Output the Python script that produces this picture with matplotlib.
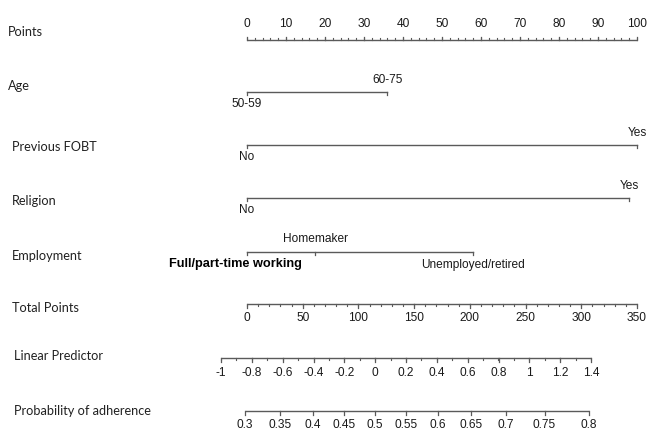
import numpy as np
import matplotlib
matplotlib.use("Agg")
import matplotlib.pyplot as plt
from matplotlib import font_manager

# ---------------- data ----------------
points_ticks = list(range(0, 101, 10))
age_levels = ["50-59", "60-75"]
age_points = [0, 36]
fobt_levels = ["No", "Yes"]
fobt_points = [0, 100]
religion_levels = ["No", "Yes"]
religion_points = [0, 98]
employment_levels = ["Full/part-time working", "Homemaker", "Unemployed/retired"]
employment_points = [0, 17.5, 58]
total_ticks = list(range(0, 351, 50))
lp_ticks = [-1, -0.8, -0.6, -0.4, -0.2, 0, 0.2, 0.4, 0.6, 0.8, 1, 1.2, 1.4]
prob_ticks = [0.3, 0.35, 0.4, 0.45, 0.5, 0.55, 0.6, 0.65, 0.7, 0.75, 0.8]
row_names = ["Points", "Age", "Previous FOBT", "Religion", "Employment",
             "Total Points", "Linear Predictor", "Probability of adherence"]

# ---------------- fonts ----------------
avail = {f.name for f in font_manager.fontManager.ttflist}
narrow = "Liberation Sans Narrow" if "Liberation Sans Narrow" in avail else "Liberation Sans"
lab_font = "Lato" if "Lato" in avail else "DejaVu Sans"

# ---------------- scale mappings (to 'points' units) ----------------
PX0, PX100 = 247.0, 637.0          # pixel position of 0 and 100 points
ppp = (PX100 - PX0) / 100.0
def tp2pt(v):
    return np.asarray(v, float) * 100.0 / 350.0
LP_L, LP_R = (221.0 - PX0) / ppp, (591.0 - PX0) / ppp
def lp2pt(v):
    return LP_L + (np.asarray(v, float) + 1.0) * (LP_R - LP_L) / 2.4
def pr2pt(p):
    p = np.asarray(p, float)
    return lp2pt(np.log(p / (1 - p)))

W, H = 649, 432
fig = plt.figure(figsize=(W / 100, H / 100), dpi=100)
ax = fig.add_axes([0, 0, 1, 1])
ax.set_xlim(-PX0 / ppp, (W - PX0) / ppp)
ax.set_ylim(H, 0)
ax.axis("off")

lc = "#5a5a5a"
tc = "#1a1a1a"
tick_fs = 8.6
lab_fs = 9.2
maj = 3.5   # tick length in px (y units)
mnr = 2.2

def scale(xs_major, labels, y, ylab, xs_minor=(), up=True):
    xs_major = np.asarray(xs_major, float)
    ax.plot([xs_major.min(), xs_major.max()], [y, y], color=lc, lw=1.0, solid_capstyle="butt")
    d = -1 if up else 1
    for x in xs_major:
        ax.plot([x, x], [y, y + d * maj], color=lc, lw=0.9)
    for x in xs_minor:
        ax.plot([x, x], [y, y + d * mnr], color=lc, lw=0.8)
    for x, l in zip(xs_major, labels):
        ax.text(x, ylab, l, ha="center", va="center", fontsize=tick_fs,
                family=narrow, color=tc)

def fmt(v):
    s = ("%g" % v)
    return s.replace("0.", ".") if False else s

# Points
scale(points_ticks, [str(t) for t in points_ticks], 40, 24,
      xs_minor=np.arange(0, 100.1, 2), up=True)

# categorical rows
def cat_row(pts, levels, y, pos, fam=None, weight="normal"):
    pts = np.asarray(pts, float)
    ax.plot([pts.min(), pts.max()], [y, y], color=lc, lw=1.0)
    for x in pts:
        ax.plot([x, x], [y, y + 3], color=lc, lw=0.9)
    for x, l, p in zip(pts, levels, pos):
        yy = y - 12 if p == "above" else y + 12
        ax.text(x, yy, l, ha="center", va="center", fontsize=tick_fs,
                family=narrow, color=tc)

cat_row(age_points, age_levels, 92, ["below", "above"])
cat_row(fobt_points, fobt_levels, 145, ["below", "above"])
cat_row(religion_points, religion_levels, 198, ["below", "above"])

# Employment (first label bold)
ep = np.asarray(employment_points, float)
ax.plot([ep.min(), ep.max()], [252, 252], color=lc, lw=1.0)
for x in ep:
    ax.plot([x, x], [252, 255], color=lc, lw=0.9)
ax.text(ep[0] - 12 / ppp, 264, employment_levels[0], ha="center", va="center",
        fontsize=9.2, family=narrow, weight="bold", color="#000000")
ax.text(ep[1], 239, employment_levels[1], ha="center", va="center",
        fontsize=tick_fs, family=narrow, color=tc)
ax.text(ep[2], 265, employment_levels[2], ha="center", va="center",
        fontsize=tick_fs, family=narrow, color=tc)

# Total points
scale(tp2pt(total_ticks), [str(t) for t in total_ticks], 304, 318,
      xs_minor=tp2pt(np.arange(0, 351, 10)), up=False)

# Linear predictor
scale(lp2pt(lp_ticks), ["%g" % t for t in lp_ticks], 358, 373,
      xs_minor=lp2pt(np.arange(-1, 1.41, 0.1)), up=False)

# Probability
scale(pr2pt(prob_ticks), ["%g" % t for t in prob_ticks], 411, 425, up=False)

# left labels
lab_pos = [(8, 32), (8, 86), (12, 147), (12, 201), (12, 256), (12, 308), (14, 356), (14, 411)]
for name, (x, y) in zip(row_names, lab_pos):
    ax.text(-PX0 / ppp + x / ppp, y, name, ha="left", va="center",
            fontsize=lab_fs, family=lab_font, color="#222222")

fig.savefig("out.png", dpi=100, facecolor="white")
